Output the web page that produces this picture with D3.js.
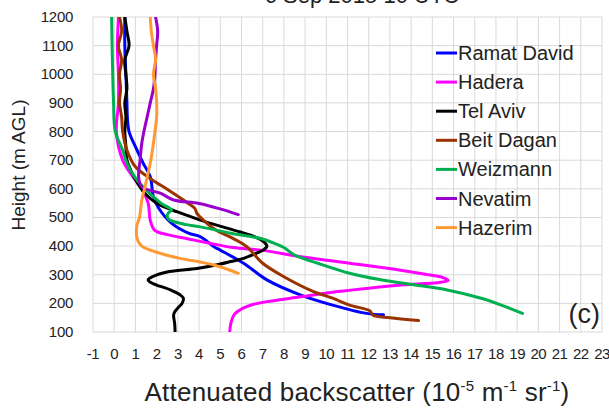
<!DOCTYPE html>
<html>
<head>
<meta charset="utf-8">
<script src="https://cdn.jsdelivr.net/npm/d3@7"></script>
<style>
  body { margin: 0; background: #fff; }
  text { font-family: "Liberation Sans", Arial, sans-serif; fill: #222; }
</style>
</head>
<body>
<div id="chart"></div>
<script>
// profiles as [backscatter, height] in drawing order
let ramatDavid = [[0.5,1200],[0.5,1100],[0.55,1000],[0.6,900],[0.62,850],[0.7,800],[1.0,747],[1.37,689],[1.7,642],[1.85,572],[2.1,532],[2.7,480],[3.5,445],[4.05,433],[4.7,398],[5.0,386],[6.1,340],[7.2,282],[8.8,229],[10.3,194],[11.9,165],[12.7,160]];
let hadera = [[0.2,1200],[0.15,1100],[0.2,1000],[0.2,900],[0.1,800],[0.4,700],[0.8,650],[1.3,600],[1.6,550],[1.7,490],[1.9,456],[2.5,440],[3.5,425],[4.5,410],[5.6,395],[7.0,385],[8.8,363],[11.1,340],[13.5,316],[14.8,300],[15.5,290],[15.75,280],[15.2,272],[14.3,268],[13.5,264],[11.9,252],[10.3,239],[8.8,223],[7.2,206],[6.5,195],[6.1,184],[5.65,160],[5.5,130],[5.45,103]];
let telAviv = [[0.5,1200],[0.6,1150],[0.7,1100],[0.5,1050],[0.55,1000],[0.6,950],[0.5,900],[0.55,850],[0.5,800],[0.55,750],[0.6,700],[0.85,654],[1.1,620],[1.5,580],[2.0,550],[2.95,520],[3.6,503],[4.5,480],[5.9,450],[6.7,430],[7.05,415],[7.2,400],[7.0,385],[6.7,375],[6.1,357],[5.5,346],[4.8,334],[3.9,322],[2.6,311],[1.8,293],[1.6,282],[1.8,270],[2.0,264],[2.65,247],[3.1,230],[3.26,218],[3.2,200],[3.05,188],[2.85,170],[2.8,159],[2.85,130],[2.87,102]];
let beitDagan = [[0.25,1200],[0.35,1150],[0.2,1100],[0.35,1050],[0.25,1000],[0.3,950],[0.25,900],[0.35,850],[0.4,800],[0.6,735],[1.0,677],[1.8,631],[2.55,596],[3.5,549],[3.8,532],[3.9,514],[4.2,491],[4.8,456],[5.6,427],[6.25,398],[7.0,340],[8.0,293],[9.4,241],[10.3,218],[11.1,194],[12.05,174],[12.2,159],[13.0,150],[14.35,140]];
let weizmann = [[-0.12,1200],[-0.1,1100],[-0.07,1000],[-0.03,900],[0.05,800],[0.4,735],[0.55,700],[0.85,654],[1.45,600],[2.2,550],[2.7,526],[2.55,515],[2.5,505],[2.6,492],[3.4,475],[4.0,468],[5.5,445],[7.0,425],[7.5,411],[8.0,395],[8.5,369],[9.6,340],[11.1,305],[12.5,283],[14.1,265],[15.7,247],[17.3,218],[18.4,190],[19.25,165]];
let nevatim = [[1.95,1200],[2.05,1150],[2.0,1100],[1.95,1050],[1.92,1000],[1.85,950],[1.7,900],[1.55,850],[1.4,800],[1.3,759],[1.22,700],[1.15,642],[1.3,607],[2.2,584],[2.8,561],[4.0,549],[5.0,530],[5.85,510]];
let hazerim = [[1.7,1200],[1.75,1150],[1.85,1100],[1.95,1050],[1.85,1000],[1.95,950],[2.0,900],[2.0,850],[1.92,800],[1.85,759],[1.7,689],[1.45,607],[1.3,560],[1.2,503],[1.06,468],[1.1,421],[1.3,400],[1.7,386],[2.4,370],[3.1,357],[4.0,345],[4.7,334],[5.3,320],[5.85,305]];

let stations = ["Ramat David", "Hadera", "Tel Aviv", "Beit Dagan", "Weizmann", "Nevatim", "Hazerim"];
let profiles = [ramatDavid, hadera, telAviv, beitDagan, weizmann, nevatim, hazerim];
let colors = ["#0000ff", "#ff00ff", "#000000", "#993300", "#00b050", "#9900cc", "#ff9933"];

let xTicks = d3.range(-1, 24);
let yTicks = d3.range(100, 1201, 100);

let W = 609, H = 413;
let m = {left: 93, right: 602, top: 17, bottom: 332};

let svg = d3.select("#chart").append("svg")
            .attr("width", W)
            .attr("height", H);

let x = d3.scaleLinear().domain([-1, 23]).range([m.left, m.right]);
let y = d3.scaleLinear().domain([100, 1200]).range([m.bottom, m.top]);

// title, mostly cut off at the top like the source figure
svg.append("text")
   .attr("x", 362).attr("y", 3)
   .attr("text-anchor", "middle")
   .style("font-size", "22px")
   .text("6 Sep 2015  10 UTC");

// grid
let grid = svg.append("g");
grid.selectAll(".vx")
    .data(xTicks)
    .enter().append("line")
    .attr("x1", d => x(d)).attr("x2", d => x(d))
    .attr("y1", m.top).attr("y2", m.bottom)
    .style("stroke", "#d9d9d9").style("stroke-width", 1);
grid.selectAll(".hy")
    .data(yTicks)
    .enter().append("line")
    .attr("x1", m.left).attr("x2", m.right)
    .attr("y1", d => y(d)).attr("y2", d => y(d))
    .style("stroke", "#d9d9d9").style("stroke-width", 1);

// tick labels
svg.append("g").selectAll("text")
   .data(xTicks)
   .enter().append("text")
   .attr("x", d => x(d))
   .attr("y", 359)
   .attr("text-anchor", "middle")
   .style("font-size", "15px")
   .style("letter-spacing", "-0.5px")
   .text(d => d);

svg.append("g").selectAll("text")
   .data(yTicks)
   .enter().append("text")
   .attr("x", 73)
   .attr("y", d => y(d) + 5)
   .attr("text-anchor", "end")
   .style("font-size", "15px")
   .style("letter-spacing", "-0.3px")
   .text(d => d);

// axis titles
let xt = svg.append("text")
   .attr("x", 357).attr("y", 401)
   .attr("text-anchor", "middle")
   .style("font-size", "26px")
   .style("letter-spacing", "0.2px");
xt.append("tspan").text("Attenuated backscatter (10");
xt.append("tspan").attr("dy", -10).style("font-size", "15px").text("-5");
xt.append("tspan").attr("dy", 10).text(" m");
xt.append("tspan").attr("dy", -10).style("font-size", "15px").text("-1");
xt.append("tspan").attr("dy", 10).text(" sr");
xt.append("tspan").attr("dy", -10).style("font-size", "15px").text("-1");
xt.append("tspan").attr("dy", 10).text(")");

svg.append("text")
   .attr("transform", "translate(25,165) rotate(-90)")
   .attr("text-anchor", "middle")
   .style("font-size", "19px")
   .text("Height (m AGL)");

// curves
svg.append("clipPath").attr("id", "clip")
   .append("rect").attr("x", m.left).attr("y", m.top)
   .attr("width", m.right - m.left).attr("height", m.bottom - m.top);

let line = d3.line()
             .x(d => x(d[0]))
             .y(d => y(d[1]))
             .curve(d3.curveCatmullRom.alpha(0.5));

svg.append("g")
   .attr("clip-path", "url(#clip)")
   .selectAll("path")
   .data(profiles)
   .enter().append("path")
   .attr("d", line)
   .style("fill", "none")
   .style("stroke", (d, i) => colors[i])
   .style("stroke-width", 3)
   .style("stroke-linejoin", "round")
   .style("stroke-linecap", "round");

// legend
let lg = svg.append("g").selectAll("g")
            .data(stations)
            .enter().append("g")
            .attr("transform", (d, i) => "translate(436," + (53 + i * 29.1) + ")");
lg.append("line")
  .attr("x1", 0).attr("x2", 21)
  .style("stroke", (d, i) => colors[i])
  .style("stroke-width", 3);
lg.append("text")
  .attr("x", 22).attr("y", 7)
  .style("font-size", "20px")
  .text(d => d);

svg.append("text")
   .attr("x", 600).attr("y", 323)
   .attr("text-anchor", "end")
   .style("font-size", "27px")
   .text("(c)");
</script>
</body>
</html>
